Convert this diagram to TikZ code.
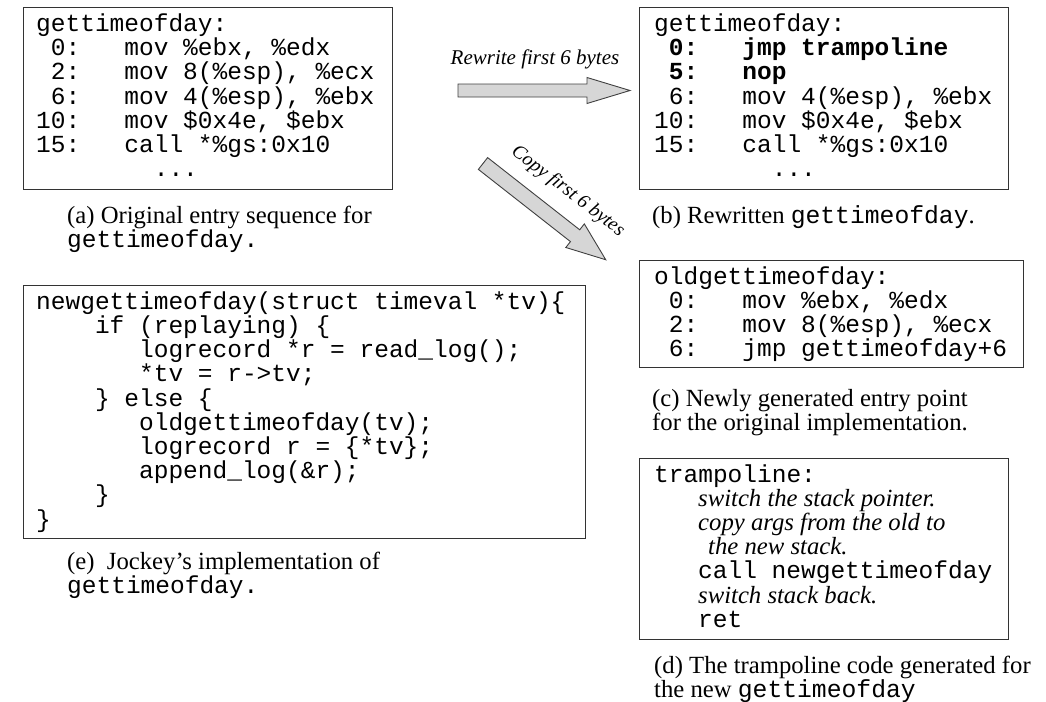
\documentclass[tikz,border=0pt]{standalone}
\usepackage{fontspec}
\setmainfont{Liberation Serif}
\setmonofont{Liberation Mono}

% font sizes (the picture is laid out in points, 1 unit = 1pt)
\newcommand\codefont{\ttfamily\fontsize{24.5}{24.5}\selectfont}
\newcommand\captfont{\rmfamily\fontsize{24.7}{24.7}\selectfont}
\newcommand\arrowlabelfont{\rmfamily\itshape\fontsize{21}{21}\selectfont}
\newcommand\slantlabelfont{\rmfamily\itshape\fontsize{19.5}{19.5}\selectfont}

\tikzset{
  frame/.style={draw=black!80, line width=1.2pt, inner sep=0pt, anchor=north west},
  code/.style={font=\codefont, anchor=base west, inner sep=0pt},
  codebold/.style={font=\codefont\bfseries, anchor=base west, inner sep=0pt},
  prose/.style={font=\captfont, anchor=base west, inner sep=0pt},
  remark/.style={font=\captfont\itshape, anchor=base west, inner sep=0pt},
  arrowlabel/.style={font=\arrowlabelfont, inner sep=0pt},
  blockarrow/.style={draw=black!75, line width=0.9pt, fill=black!16, line join=miter},
}

\begin{document}
\begin{tikzpicture}[x=1pt, y=-1pt]
\useasboundingbox (0,0) rectangle (1046,701);

% ---------- frames ----------
\node[frame, minimum width=369pt, minimum height=181.5pt] (boxa) at (23,7) {};
\node[frame, minimum width=369pt, minimum height=182pt]   (boxb) at (639,7) {};
\node[frame, minimum width=384pt, minimum height=107pt]   (boxc) at (639,260) {};
\node[frame, minimum width=369pt, minimum height=181pt]   (boxd) at (639,458) {};
\node[frame, minimum width=562pt, minimum height=253pt]   (boxe) at (23,285) {};

% ---------- (a) original entry sequence ----------
\node[code] (a0) at (36,31.5)  {gettimeofday:};
\node[code] (a1) at (36,55.7)  {~0:~~~mov~\%ebx,~\%edx};
\node[code] (a2) at (36,79.9)  {~2:~~~mov~8(\%esp),~\%ecx};
\node[code] (a3) at (36,104.1) {~6:~~~mov~4(\%esp),~\%ebx};
\node[code] (a4) at (36,128.3) {10:~~~mov~\$0x4e,~\$ebx};
\node[code] (a5) at (36,152.5) {15:~~~call~*\%gs:0x10};
\node[code] (a6) at (36,176.7) {~~~~~~~~...};
\node[prose] (capa1) at (67,223.3) {(a) Original entry sequence for};
\node[code]  (capa2) at (67,247.5) {gettimeofday.};

% ---------- (b) rewritten entry ----------
\node[code]     (b0) at (654,31.5)  {gettimeofday:};
\node[codebold] (b1) at (654,55.7)  {~0:~~~jmp~trampoline};
\node[codebold] (b2) at (654,79.9)  {~5:~~~nop};
\node[code]     (b3) at (654,104.1) {~6:~~~mov~4(\%esp),~\%ebx};
\node[code]     (b4) at (654,128.3) {10:~~~mov~\$0x4e,~\$ebx};
\node[code]     (b5) at (654,152.5) {15:~~~call~*\%gs:0x10};
\node[code]     (b6) at (654,176.7) {~~~~~~~~...};
\node[prose] (capb) at (652,223.3) {(b) Rewritten \texttt{gettimeofday}.};

% ---------- (c) new entry point ----------
\node[code] (c0) at (654,284)   {oldgettimeofday:};
\node[code] (c1) at (654,308.2) {~0:~~~mov~\%ebx,~\%edx};
\node[code] (c2) at (654,332.4) {~2:~~~mov~8(\%esp),~\%ecx};
\node[code] (c3) at (654,356.6) {~6:~~~jmp~gettimeofday+6};
\node[prose] (capc1) at (652,406) {(c) Newly generated entry point};
\node[prose] (capc2) at (652,430) {for the original implementation.};

% ---------- (d) trampoline ----------
\node[code]   (d0) at (654,482)   {trampoline:};
\node[remark] (d1) at (698,506.2) {switch the stack pointer.};
\node[remark] (d2) at (698,530.4) {copy args from the old to};
\node[remark] (d3) at (708,554.6) {the new stack.};
\node[code]   (d4) at (698,578.8) {call~newgettimeofday};
\node[remark] (d5) at (698,603.0) {switch stack back.};
\node[code]   (d6) at (698,627.2) {ret};
\node[prose] (capd1) at (654,673) {(d) The trampoline code generated for};
\node[prose] (capd2) at (654,697) {the new \texttt{gettimeofday}};

% ---------- (e) replacement function ----------
\node[code] (e0) at (36,309.3)    {newgettimeofday(struct~timeval~*tv)\{};
\node[code] (e1) at (94.8,333.5)  {if~(replaying)~\{};
\node[code] (e2) at (138.9,357.7) {logrecord~*r~=~read\_log();};
\node[code] (e3) at (138.9,381.9) {*tv~=~r->tv;};
\node[code] (e4) at (94.8,406.1)  {\}~else~\{};
\node[code] (e5) at (138.9,430.3) {oldgettimeofday(tv);};
\node[code] (e6) at (138.9,454.5) {logrecord~r~=~\{*tv\};};
\node[code] (e7) at (138.9,478.7) {append\_log(\&r);};
\node[code] (e8) at (94.8,502.9)  {\}};
\node[code] (e9) at (36,527.1)    {\}};
\node[prose] (cape1) at (67,569.3) {(e)\ \ Jockey’s implementation of};
\node[code]  (cape2) at (67,593.5) {gettimeofday.};

% ---------- block arrows ----------
\draw[blockarrow] (458,84) -- (587,84) -- (587,77.5) -- (630,90.5)
  -- (587,103.5) -- (587,97) -- (458,97) -- cycle;
\node[arrowlabel, anchor=base] (rewrite) at (535,65) {Rewrite first 6 bytes};

\begin{scope}[shift={(483,163.5)}, rotate=-38.1]
  \draw[blockarrow] (0,-7.5) -- (117,-7.5) -- (117,-15) -- (156,0)
    -- (117,15) -- (117,7.5) -- (0,7.5) -- cycle;
\end{scope}
\node[arrowlabel, font=\slantlabelfont, anchor=base, rotate=-37.5] (copy)
  at (565,195) {Copy first 6 bytes};

\end{tikzpicture}
\end{document}
